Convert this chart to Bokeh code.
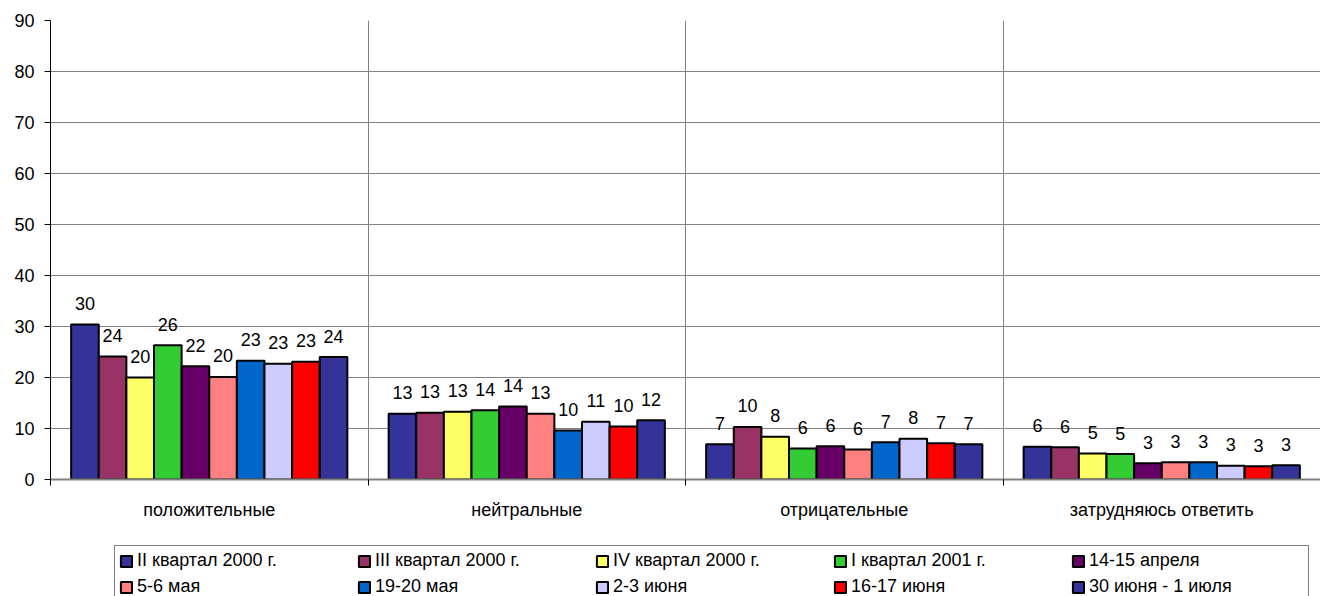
from bokeh.plotting import figure
from bokeh.layouts import column
from bokeh.models import (ColumnDataSource, Range1d, FixedTicker, Legend, LegendItem,
                          LabelSet)
from bokeh.core.properties import value
from bokeh.transform import dodge
from bokeh.embed import file_html
from bokeh.resources import INLINE

categories = ["положительные", "нейтральные", "отрицательные", "затрудняюсь ответить"]

series_names = ["II квартал 2000 г.", "III квартал 2000 г.", "IV квартал 2000 г.",
                "I квартал 2001 г.", "14-15 апреля", "5-6 мая", "19-20 мая",
                "2-3 июня", "16-17 июня", "30 июня - 1 июля"]

series_colors = ["#333399", "#993366", "#FFFF66", "#33CC33", "#660066",
                 "#FF8080", "#0066CC", "#CCCCFF", "#FF0000", "#333399"]

# values per series: [положительные, нейтральные, отрицательные, затрудняюсь ответить]
s_q2_2000 = [30.4, 12.9, 6.9, 6.4]
s_q3_2000 = [24.1, 13.1, 10.3, 6.3]
s_q4_2000 = [20.0, 13.3, 8.4, 5.1]
s_q1_2001 = [26.3, 13.6, 6.1, 5.0]
s_apr14 = [22.2, 14.3, 6.5, 3.2]
s_may5 = [20.1, 12.9, 5.9, 3.4]
s_may19 = [23.3, 9.6, 7.3, 3.4]
s_jun2 = [22.7, 11.3, 8.0, 2.7]
s_jun16 = [23.1, 10.4, 7.1, 2.6]
s_jun30 = [24.0, 11.6, 6.9, 2.8]

series_values = [s_q2_2000, s_q3_2000, s_q4_2000, s_q1_2001, s_apr14,
                 s_may5, s_may19, s_jun2, s_jun16, s_jun30]

y_ticks = [0, 10, 20, 30, 40, 50, 60, 70, 80, 90]

FONT = "Liberation Sans"
FS = "18px"
n_cat = len(categories)
n_ser = len(series_names)
bar_w = 0.087
LEG_COLS = 5

p = figure(width=1320, height=545, output_backend="svg", toolbar_location=None,
           x_range=Range1d(0, n_cat), y_range=Range1d(0, 90),
           min_border_left=50, min_border_top=20, min_border_right=0,
           min_border_bottom=66)
p.outline_line_color = None
p.background_fill_color = "white"
p.border_fill_color = "white"

cat_pos = [i + 0.5 for i in range(n_cat)]

for k in range(n_ser):
    src = ColumnDataSource(dict(xc=cat_pos, top=series_values[k],
                                lbl=[str(int(round(v))) for v in series_values[k]]))
    off = (k - (n_ser - 1) / 2) * bar_w
    p.vbar(x=dodge("xc", off), top="top", width=bar_w, source=src,
           fill_color=series_colors[k], line_color="black", line_width=2)
    labels = LabelSet(x=dodge("xc", off), y="top", text="lbl", source=src,
                      text_align="center", text_baseline="middle", y_offset=21,
                      text_font=value(FONT), text_font_size=value(FS),
                      text_color="black")
    p.add_layout(labels)

# y axis
p.yaxis.ticker = FixedTicker(ticks=y_ticks)
p.yaxis.axis_line_color = "black"
p.yaxis.major_tick_out = 6
p.yaxis.major_tick_in = 0
p.yaxis.major_tick_line_color = "black"
p.yaxis.minor_tick_line_color = None
p.yaxis.major_label_text_font = FONT
p.yaxis.major_label_text_font_size = FS
p.yaxis.major_label_standoff = 10
p.yaxis.major_label_text_color = "black"

# x axis
p.xaxis.ticker = FixedTicker(ticks=cat_pos, minor_ticks=list(range(n_cat + 1)))
p.xaxis.major_label_overrides = {cat_pos[i]: categories[i] for i in range(n_cat)}
p.xaxis.major_tick_line_color = None
p.xaxis.major_tick_out = 0
p.xaxis.major_tick_in = 0
p.xaxis.minor_tick_out = 6
p.xaxis.minor_tick_in = 0
p.xaxis.minor_tick_line_color = "black"
p.xaxis.axis_line_color = "#808080"
p.xaxis.axis_line_width = 2
p.xaxis.major_label_text_font = FONT
p.xaxis.major_label_text_font_size = FS
p.xaxis.major_label_standoff = 14
p.xaxis.major_label_text_color = "black"

# grids
p.ygrid.ticker = FixedTicker(ticks=y_ticks)
p.ygrid.grid_line_color = "#808080"
p.ygrid.grid_line_width = 1
p.xgrid.ticker = FixedTicker(ticks=list(range(1, n_cat + 1)))
p.xgrid.grid_line_color = "#808080"
p.xgrid.grid_line_width = 1

# legend strip below the chart
lg = figure(width=1320, height=51, output_backend="svg", toolbar_location=None,
            x_range=Range1d(0, 1), y_range=Range1d(0, 1),
            min_border_left=50, min_border_right=0, min_border_top=0,
            min_border_bottom=0)
lg.axis.visible = False
lg.grid.visible = False
lg.outline_line_color = None
lg.border_fill_color = "white"
lg.background_fill_color = "white"

# swatch renderers for the legend (their single box lies outside the visible range)
leg_renderers = [lg.quad(left=[5], right=[6], bottom=[5], top=[6],
                         fill_color=series_colors[k], line_color="black",
                         line_width=2)
                 for k in range(n_ser)]

# legend grid fills column by column; reorder so that rows read left to right
n_rows = (n_ser + LEG_COLS - 1) // LEG_COLS
order = [r * LEG_COLS + c for c in range(LEG_COLS) for r in range(n_rows)]

legend = Legend(items=[LegendItem(label=series_names[k], renderers=[leg_renderers[k]])
                       for k in order],
                ncols=LEG_COLS, location=(64, -6),
                glyph_width=14, glyph_height=14, label_standoff=4,
                label_width=215, label_height=20, spacing=5, padding=4,
                margin=0,
                label_text_font=FONT, label_text_font_size=FS,
                label_text_color="black",
                border_line_color="black", border_line_width=1,
                background_fill_alpha=1)
lg.add_layout(legend)

layout = column(p, lg, spacing=0)
open("out.html", "w").write(file_html(layout, INLINE))
